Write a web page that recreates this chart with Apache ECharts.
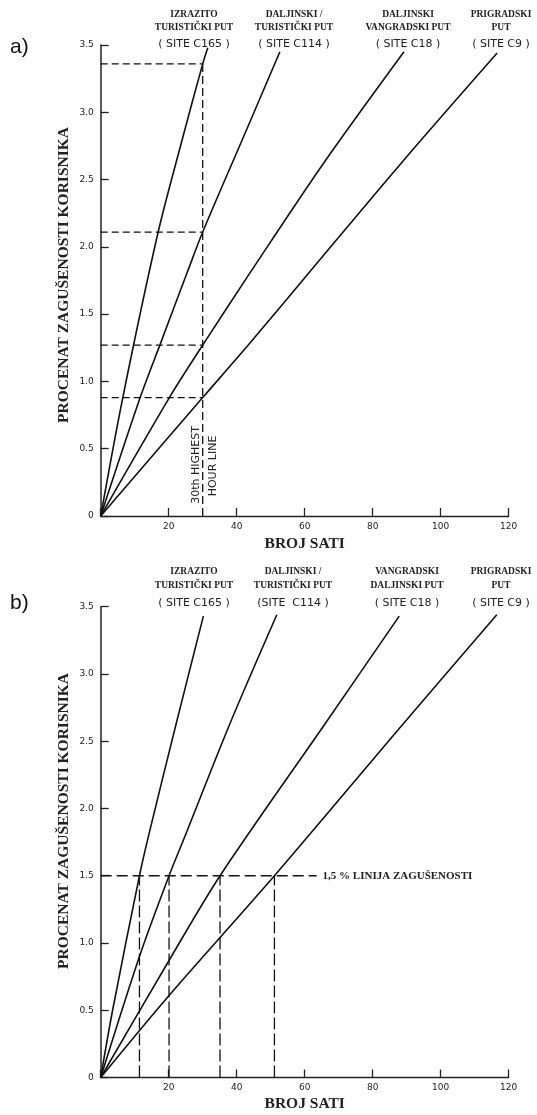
<!DOCTYPE html>
<html>
<head>
<meta charset="utf-8">
<script src="https://cdn.jsdelivr.net/npm/echarts@6/dist/echarts.min.js"></script>
<style>
html, body { margin: 0; padding: 0; background: #fff; }
#main { width: 537px; height: 1115px; }
</style>
</head>
<body>
<div id="main"></div>
<script>
// vrijednosti ocitane sa slike: [broj sati, procenat zagusenosti]
var roadTypesA = [['IZRAZITO', 'TURISTIČKI PUT'], ['DALJINSKI /', 'TURISTIČKI PUT'], ['DALJINSKI', 'VANGRADSKI PUT'], ['PRIGRADSKI', 'PUT']];
var roadTypesB = [['IZRAZITO', 'TURISTIČKI PUT'], ['DALJINSKI /', 'TURISTIČKI PUT'], ['VANGRADSKI', 'DALJINSKI PUT'], ['PRIGRADSKI', 'PUT']];
var siteLabelsA = ['( SITE C165 )', '( SITE C114 )', '( SITE C18 )', '( SITE C9 )'];
var siteLabelsB = ['( SITE C165 )', '(SITE  C114 )', '( SITE C18 )', '( SITE C9 )'];

// a) 30-ti najveci sat
var curveA_C165 = [[0, 0], [6.5, 0.88], [16.9, 2.11], [24, 2.8], [30, 3.36], [31.5, 3.48]];
var curveA_C114 = [[0, 0], [11.6, 0.88], [17.4, 1.27], [25.6, 1.82], [30, 2.11], [42.9, 2.87], [52.7, 3.45]];
var curveA_C18 = [[0, 0], [20.2, 0.88], [30, 1.27], [44, 1.81], [65.5, 2.62], [89.2, 3.45]];
var curveA_C9 = [[0, 0], [30, 0.88], [43.4, 1.27], [62, 1.83], [89, 2.64], [116.6, 3.44]];
var hour30 = 30;
var hour30Values = [3.36, 2.11, 1.27, 0.88];

// b) linija zagusenosti 1,5 %
var curveB_C165 = [[0, 0], [3.5, 0.5], [11.4, 1.5], [14.3, 1.82], [22.2, 2.63], [30.2, 3.43]];
var curveB_C114 = [[0, 0], [11.4, 0.9], [20.1, 1.5], [25.2, 1.82], [38, 2.63], [51.8, 3.44]];
var curveB_C18 = [[0, 0], [20.1, 0.87], [35.1, 1.5], [66, 2.63], [87.8, 3.43]];
var curveB_C9 = [[0, 0], [20.1, 0.61], [51.1, 1.5], [89, 2.63], [116.5, 3.44]];
var congestionLevel = 1.5;
var congestionHours = [11.4, 20.1, 35.1, 51.1];
var congestionLineEnd = 63.5;

var curvesA = [curveA_C165, curveA_C114, curveA_C18, curveA_C9];
var curvesB = [curveB_C165, curveB_C114, curveB_C18, curveB_C9];

var chart = echarts.init(document.getElementById('main'));

var SERIF = '"Liberation Serif", "DejaVu Serif", serif';
var SANS = '"DejaVu Sans", sans-serif';

function curveSeries(data, idx) {
  return {
    type: 'line', xAxisIndex: idx, yAxisIndex: idx, data: data,
    smooth: 0.3, symbol: 'none', silent: true, z: 3,
    lineStyle: { color: '#111', width: 1.6 }
  };
}
function dashSeries(data, idx, dash) {
  return {
    type: 'line', xAxisIndex: idx, yAxisIndex: idx, data: data,
    symbol: 'none', silent: true, z: 2,
    lineStyle: { color: '#111', width: 1.3, type: dash }
  };
}

var series = [];
curvesA.forEach(function (c) { series.push(curveSeries(c, 0)); });
curvesB.forEach(function (c) { series.push(curveSeries(c, 1)); });

// a) isprekidane linije
hour30Values.forEach(function (v) {
  series.push(dashSeries([[0, v], [hour30, v]], 0, [7, 4]));
});
series.push(dashSeries([[hour30, 0], [hour30, Math.max.apply(null, hour30Values)]], 0, [8, 4]));

// b) isprekidane linije
var congestionSeries = dashSeries([[0, congestionLevel], [congestionLineEnd, congestionLevel]], 1, [11, 5]);
congestionSeries.endLabel = {
  show: true, formatter: '1,5 % LINIJA ZAGUŠENOSTI', distance: 6,
  fontFamily: SERIF, fontWeight: 'bold', fontSize: 11, color: '#222'
};
series.push(congestionSeries);
congestionHours.forEach(function (h) {
  series.push(dashSeries([[h, 0], [h, congestionLevel]], 1, [12, 4]));
});

function xAxisFor(idx, gap) {
  return {
    type: 'value', gridIndex: idx, min: 0, max: 120, interval: 20,
    name: 'BROJ SATI', nameLocation: 'middle', nameGap: gap,
    nameTextStyle: { fontFamily: SERIF, fontWeight: 'bold', fontSize: 15.5, color: '#222' },
    axisLine: { lineStyle: { color: '#222', width: 1.3 } },
    axisTick: { inside: true, length: 8, lineStyle: { color: '#222', width: 1.3 } },
    axisLabel: {
      margin: 6, fontFamily: SANS, fontSize: 9, color: '#222',
      formatter: function (v) { return v === 0 ? '' : String(v); }
    },
    splitLine: { show: false }
  };
}
function yAxisFor(idx) {
  return {
    type: 'value', gridIndex: idx, min: 0, max: 3.5, interval: 0.5,
    axisLine: { lineStyle: { color: '#222', width: 1.5 } },
    axisTick: { inside: true, length: 8, lineStyle: { color: '#222', width: 1.3 } },
    axisLabel: {
      margin: 7, fontFamily: SANS, fontSize: 9, color: '#222',
      formatter: function (v) { return v === 0 ? '0' : v.toFixed(1); }
    },
    splitLine: { show: false }
  };
}

var graphic = [];
function addText(text, x, y, font, rotation) {
  graphic.push({
    type: 'text', x: x, y: y, rotation: rotation || 0, silent: true,
    style: { text: text, x: 0, y: 0, font: font, fill: '#222', textAlign: 'center', textVerticalAlign: 'middle' }
  });
}
function addHeaders(types, sites, centers, rows) {
  types.forEach(function (t, i) {
    addText(t[0], centers[i], rows[0], 'bold 9.5px ' + SERIF);
    addText(t[1], centers[i], rows[1], 'bold 9.5px ' + SERIF);
    addText(sites[i], centers[i], rows[2], '11px ' + SANS);
  });
}
addHeaders(roadTypesA, siteLabelsA, [194, 294, 408, 501], [15, 28, 44]);
addHeaders(roadTypesB, siteLabelsB, [194, 293, 407, 501], [572, 586, 603]);

graphic.push({ type: 'text', x: 10, y: 47, silent: true,
  style: { text: 'a)', font: '21px "Liberation Sans", sans-serif', fill: '#111', textVerticalAlign: 'middle' } });
graphic.push({ type: 'text', x: 10, y: 603, silent: true,
  style: { text: 'b)', font: '21px "Liberation Sans", sans-serif', fill: '#111', textVerticalAlign: 'middle' } });

addText('PROCENAT ZAGUŠENOSTI KORISNIKA', 64, 275, 'bold 15.5px ' + SERIF, Math.PI / 2);
addText('PROCENAT ZAGUŠENOSTI KORISNIKA', 64, 821, 'bold 15.5px ' + SERIF, Math.PI / 2);
addText('30th HIGHEST', 196, 465, '11px ' + SANS, Math.PI / 2);
addText('HOUR LINE', 213.5, 466, '11px ' + SANS, Math.PI / 2);

chart.setOption({
  backgroundColor: '#fff',
  animation: false,
  grid: [
    { left: 100.7, top: 45, width: 408, height: 471 },
    { left: 100.7, top: 606.7, width: 408, height: 470.8 }
  ],
  xAxis: [xAxisFor(0, 20), xAxisFor(1, 18)],
  yAxis: [yAxisFor(0), yAxisFor(1)],
  graphic: graphic,
  series: series
});
</script>
</body>
</html>
